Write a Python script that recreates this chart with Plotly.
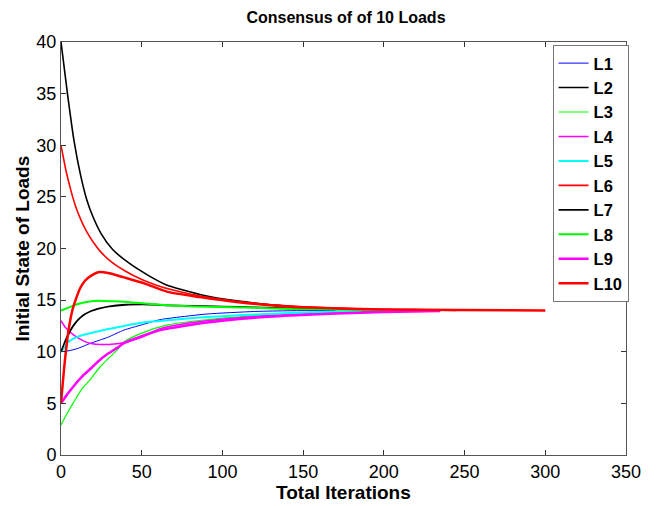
import plotly.graph_objects as go

# ---- data ----
names = ["L1", "L2", "L3", "L4", "L5", "L6", "L7", "L8", "L9", "L10"]

l1_x = [0, 5, 10, 18, 29, 39, 50, 61, 70, 90, 120, 142, 170]
l1_y = [10, 10.1, 10.3, 10.8, 11.4, 12.1, 12.6, 13.1, 13.3, 13.65, 13.9, 13.97, 14.0]

l2_x = [0, 4, 8, 12, 16, 20, 25, 32, 42, 54, 65, 86, 110, 142, 170, 190]
l2_y = [40, 35, 30.5, 27.2, 24.7, 23.0, 21.4, 19.9, 18.6, 17.4, 16.5, 15.55, 14.9, 14.4, 14.2, 14.1]

l3_x = [0, 4, 8, 13, 18.6, 24, 29, 35, 39, 50, 66, 90, 120, 142, 170, 199]
l3_y = [2.9, 4.1, 5.15, 6.4, 7.4, 8.5, 9.3, 10.2, 10.95, 11.8, 12.6, 13.1, 13.5, 13.75, 13.9, 14.0]

l4_x = [0, 3, 8, 14.5, 18.6, 25, 33, 39, 50, 61, 80, 110, 142, 170, 198]
l4_y = [13, 12.3, 11.6, 11.0, 10.8, 10.7, 10.75, 10.9, 11.4, 12.2, 12.8, 13.3, 13.6, 13.8, 13.9]

l5_x = [0, 2, 4, 8, 13, 18, 28, 39, 50, 58, 66, 80, 100, 120, 142, 160, 186]
l5_y = [10, 10.4, 10.9, 11.3, 11.6, 11.8, 12.15, 12.5, 12.8, 12.95, 13.05, 13.25, 13.45, 13.6, 13.75, 13.85, 13.95]

l6_x = [0, 3, 6, 9, 12, 16, 20, 25, 32, 40, 50, 60, 70, 86, 110, 142, 168, 200, 219, 245]
l6_y = [30, 27.6, 25.7, 24.1, 22.9, 21.6, 20.6, 19.6, 18.6, 17.8, 17.0, 16.4, 15.95, 15.4, 14.85, 14.43, 14.23, 14.1, 14.08, 14.0]

l7_x = [0, 2, 4, 6, 8, 11, 14, 18, 24, 30, 40, 50, 60, 66, 80, 100, 120, 142, 150]
l7_y = [10, 10.8, 11.5, 12.1, 12.6, 13.15, 13.55, 13.9, 14.2, 14.4, 14.55, 14.58, 14.55, 14.5, 14.45, 14.38, 14.3, 14.2, 14.15]

l8_x = [0, 5, 10, 15, 18.6, 23, 30, 39, 50, 66, 90, 120, 142, 170, 200]
l8_y = [14, 14.3, 14.6, 14.8, 14.9, 14.95, 14.9, 14.85, 14.7, 14.5, 14.35, 14.25, 14.15, 14.08, 14.02]

l9_x = [0, 4, 8.3, 13, 18.6, 24, 29, 35, 39.3, 50, 61, 80, 100, 120, 142, 170, 200, 235]
l9_y = [5, 5.9, 6.76, 7.6, 8.4, 9.2, 9.8, 10.4, 10.85, 11.5, 12.08, 12.6, 13.0, 13.3, 13.5, 13.7, 13.85, 13.95]

l10_x = [0, 1, 2, 3, 4, 5, 7, 9, 12, 15, 19, 23, 30, 39, 52, 66, 86, 110, 142, 170, 200, 245, 300]
l10_y = [5, 6.8, 8.5, 10, 11.3, 12.4, 14, 15, 16.2, 16.9, 17.4, 17.7, 17.6, 17.2, 16.6, 15.8, 15.3, 14.8, 14.35, 14.2, 14.1, 14.05, 14.0]

xs = [l1_x, l2_x, l3_x, l4_x, l5_x, l6_x, l7_x, l8_x, l9_x, l10_x]
ys = [l1_y, l2_y, l3_y, l4_y, l5_y, l6_y, l7_y, l8_y, l9_y, l10_y]

x_ticks = [0, 50, 100, 150, 200, 250, 300, 350]
y_ticks = [0, 5, 10, 15, 20, 25, 30, 35, 40]

# ---- styles ----
colors = ["#0000ff", "#000000", "#00ff00", "#ff00ff", "#00ffff",
          "#ff0000", "#000000", "#00ff00", "#ff00ff", "#ff0000"]
widths = [1, 1.6, 1.2, 1.5, 2, 1.6, 1.8, 2, 2.5, 2.5]

FONT = "Liberation Sans, Arial, sans-serif"

fig = go.Figure()
for n, x, y, c, w in zip(names, xs, ys, colors, widths):
    fig.add_trace(go.Scatter(x=x, y=y, name=n, mode="lines",
                             line=dict(color=c, width=w, shape="spline", smoothing=0.6)))

axis_common = dict(showgrid=False, zeroline=False, showline=True, linecolor="#555555",
                   linewidth=1, mirror="ticks", ticks="inside", ticklen=5,
                   tickcolor="#333333", automargin=False,
                   tickfont=dict(family=FONT, size=18, color="#000000"))

fig.update_layout(
    width=659, height=506,
    margin=dict(l=61, r=33, t=42, b=51),
    paper_bgcolor="white", plot_bgcolor="white",
    title=dict(text="<b>Consensus of of 10 Loads</b>", x=0.525, xanchor="center",
               y=0.966, yanchor="middle",
               font=dict(family=FONT, size=16, color="#000000")),
    xaxis=dict(range=[0, 350], tickvals=x_ticks, **axis_common),
    yaxis=dict(range=[0, 40], tickvals=y_ticks, **axis_common),
    legend=dict(x=0.870, y=0.993, xanchor="left", yanchor="top",
                bgcolor="white", bordercolor="#777777", borderwidth=1,
                font=dict(family=FONT, size=16.5, color="#000000", weight="bold"),
                itemwidth=30, tracegroupgap=0),
    showlegend=True,
    annotations=[
        dict(text="<b>Total Iterations</b>", xref="paper", yref="paper",
             x=0.5, y=-0.0896, xanchor="center", yanchor="middle", showarrow=False,
             font=dict(family=FONT, size=19, color="#000000")),
        dict(text="<b>Initial State of Loads</b>", xref="paper", yref="paper",
             x=-0.069, y=0.5, xanchor="center", yanchor="middle", showarrow=False,
             textangle=-90, font=dict(family=FONT, size=19, color="#000000")),
    ],
)

fig.write_html("out.html", config={"displayModeBar": False},
               post_script="document.body.style.margin='0';")
